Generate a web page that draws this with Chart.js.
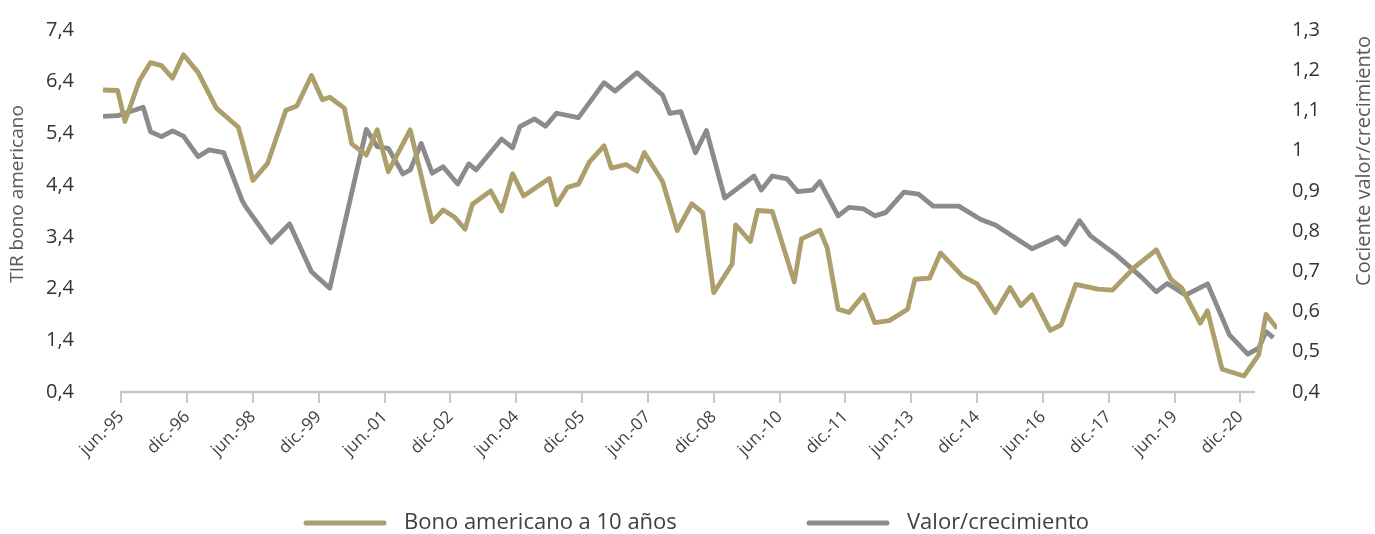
<!DOCTYPE html>
<html>
<head>
<meta charset="utf-8">
<script src="https://cdn.jsdelivr.net/npm/chart.js@4/dist/chart.umd.min.js"></script>
<style>
  html, body { margin: 0; padding: 0; background: #ffffff; }
  #wrap { width: 1375px; height: 534px; position: relative; }
</style>
</head>
<body>
<div id="wrap"><canvas id="c" width="1375" height="534"></canvas></div>
<script>
// ---- DATA (x = months elapsed since Jan-1995) ----
const bondMonths = [0,4,6,10,13,16,19,22,26,31,37,41,45,50,53,57,60,62,66,68,72,75,78,84,90,93,96,99,101,106,109,112,115,122,124,127,130,133,137,139,143,146,148,153,157,161,164,167,172,173,177,179,183,189,191,196,198,201,204,208,211,215,220,222,226,229,235,239,244,248,251,254,259,262,266,272,276,282,288,292,295,300,302,306,312,316,318,321];
const bondYield = [6.24,6.23,5.63,6.43,6.77,6.71,6.47,6.92,6.58,5.89,5.52,4.49,4.82,5.85,5.93,6.52,6.05,6.10,5.89,5.20,4.98,5.47,4.66,5.47,3.69,3.92,3.79,3.55,4.03,4.29,3.90,4.62,4.19,4.53,4.02,4.36,4.42,4.85,5.16,4.73,4.80,4.67,5.03,4.47,3.52,4.04,3.87,2.32,2.87,3.63,3.31,3.91,3.89,2.53,3.36,3.53,3.19,2.00,1.94,2.28,1.74,1.78,2.00,2.58,2.60,3.09,2.64,2.49,1.94,2.42,2.07,2.28,1.59,1.70,2.48,2.39,2.37,2.81,3.15,2.58,2.41,1.73,1.97,0.84,0.71,1.12,1.90,1.63];

const ratioMonths = [0,4,11,13,16,19,22,26,29,33,38,39,46,51,57,62,72,75,78,82,84,87,90,93,97,100,102,109,112,114,118,121,124,130,137,140,146,153,155,158,162,165,170,178,180,183,187,190,194,196,201,204,208,211,214,219,223,227,234,240,244,254,261,263,267,270,277,284,288,291,296,302,308,313,316,318,320];
const ratioValues = [1.085,1.087,1.108,1.047,1.035,1.049,1.036,0.985,1.002,0.995,0.877,0.861,0.772,0.818,0.699,0.658,1.053,1.010,1.006,0.942,0.952,1.018,0.944,0.960,0.917,0.967,0.952,1.029,1.007,1.060,1.079,1.061,1.093,1.082,1.169,1.148,1.194,1.138,1.093,1.097,0.995,1.050,0.882,0.937,0.902,0.937,0.930,0.898,0.902,0.923,0.838,0.859,0.855,0.838,0.846,0.897,0.892,0.862,0.862,0.829,0.815,0.756,0.785,0.767,0.826,0.788,0.741,0.685,0.649,0.670,0.641,0.669,0.542,0.494,0.509,0.550,0.535];

const seriesNames = ['Bono americano a 10 años', 'Valor/crecimiento'];
const xTickLabels = ['jun.-95','dic.-96','jun.-98','dic.-99','jun.-01','dic.-02','jun.-04','dic.-05','jun.-07','dic.-08','jun.-10','dic.-11','jun.-13','dic.-14','jun.-16','dic.-17','jun.-19','dic.-20'];
const xAxisSpan = ['jun.-95', 'abr.-21'];
const xRange = [0, 321];
const leftTicks = [0.4,1.4,2.4,3.4,4.4,5.4,6.4,7.4];
const rightTicks = [0.4,0.5,0.6,0.7,0.8,0.9,1.0,1.1,1.2,1.3];
const leftTitle = 'TIR bono americano';
const rightTitle = 'Cociente valor/crecimiento';

// ---- helpers ----
const MONTHS = {ene:0,feb:1,mar:2,abr:3,may:4,jun:5,jul:6,ago:7,sep:8,oct:9,nov:10,dic:11};
function labelToMonth(lbl) {
  const m = lbl.match(/^([a-z]+)\.-(\d\d)$/);
  const yy = parseInt(m[2], 10);
  const year = yy > 50 ? 1900 + yy : 2000 + yy;
  return (year - 1995) * 12 + MONTHS[m[1]];
}
const xTickValues = xTickLabels.map(labelToMonth);
const fmt = v => String(Math.round(v * 10) / 10).replace('.', ',');

const GOLD = '#ad9f6b';
const GREY = '#8b8b8b';
const AXIS = '#c8c8cb';
const FONT = "'Open Sans', 'DejaVu Sans', sans-serif";

const decor = {
  id: 'decor',
  beforeDatasetsDraw(chart) {
    const ctx = chart.ctx, xs = chart.scales.x;
    const y = chart.chartArea.bottom;
    ctx.save();
    ctx.strokeStyle = AXIS;
    ctx.lineWidth = 2.5;
    ctx.beginPath();
    ctx.moveTo(xs.getPixelForValue(labelToMonth(xAxisSpan[0])) - 1, y);
    ctx.lineTo(xs.getPixelForValue(labelToMonth(xAxisSpan[1])), y);
    ctx.stroke();
    ctx.restore();
  },
  afterDraw(chart) {
    const ctx = chart.ctx;
    ctx.save();
    // axis titles (both read bottom-to-top)
    ctx.fillStyle = '#595959';
    ctx.font = '19px ' + FONT;
    ctx.textAlign = 'center';
    ctx.textBaseline = 'middle';
    ctx.translate(18, 194);
    ctx.rotate(-Math.PI / 2);
    ctx.fillText(leftTitle, 0, 0);
    ctx.setTransform(1, 0, 0, 1, 0, 0);
    ctx.font = '20px ' + FONT;
    ctx.translate(1364, 161);
    ctx.rotate(-Math.PI / 2);
    ctx.fillText(rightTitle, 0, 0);
    ctx.setTransform(1, 0, 0, 1, 0, 0);
    // legend
    const items = chart.data.datasets;
    const starts = [306, 809];
    ctx.font = '22px ' + FONT;
    ctx.textAlign = 'left';
    ctx.textBaseline = 'middle';
    items.forEach((ds, i) => {
      const x0 = starts[i], y0 = 523;
      ctx.strokeStyle = ds.borderColor;
      ctx.lineWidth = 5;
      ctx.lineCap = 'round';
      ctx.beginPath();
      ctx.moveTo(x0, y0);
      ctx.lineTo(x0 + 78, y0);
      ctx.stroke();
      ctx.fillStyle = '#404040';
      ctx.fillText(ds.label, x0 + 98, y0);
    });
    ctx.restore();
  }
};

const toPoints = (xs, ys) => xs.map((m, i) => ({ x: m, y: ys[i] }));
const fitY = w => s => { s.width = w; s.paddingTop = 8; s.paddingBottom = 8; };

new Chart(document.getElementById('c'), {
  type: 'line',
  data: {
    datasets: [
      { label: seriesNames[0], data: toPoints(bondMonths, bondYield), yAxisID: 'y',
        borderColor: GOLD, backgroundColor: GOLD, borderWidth: 4.8, pointRadius: 0,
        tension: 0, borderJoinStyle: 'round' },
      { label: seriesNames[1], data: toPoints(ratioMonths, ratioValues), yAxisID: 'y2',
        borderColor: GREY, backgroundColor: GREY, borderWidth: 4.8, pointRadius: 0,
        tension: 0, borderJoinStyle: 'round' }
    ]
  },
  options: {
    responsive: false,
    animation: false,
    events: [],
    layout: { padding: { top: 30, bottom: 0, left: 0, right: 0 } },
    plugins: { legend: { display: false }, tooltip: { enabled: false }, title: { display: false } },
    scales: {
      x: {
        type: 'linear', min: xRange[0], max: xRange[1], offset: false,
        afterBuildTicks: s => { s.ticks = xTickValues.map(v => ({ value: v })); },
        afterFit: s => { s.height = 142; },
        border: { display: false },
        grid: { drawOnChartArea: false, drawTicks: true, tickLength: 11, color: AXIS, lineWidth: 2 },
        ticks: {
          autoSkip: false, minRotation: 45, maxRotation: 45, padding: 4,
          color: '#404040', font: { family: FONT, size: 17 },
          callback: v => { const i = xTickValues.indexOf(v); return i >= 0 ? xTickLabels[i] : ''; }
        }
      },
      y: {
        position: 'left', min: leftTicks[0], max: leftTicks[leftTicks.length - 1],
        afterBuildTicks: s => { s.ticks = leftTicks.map(v => ({ value: v })); },
        afterFit: fitY(103),
        border: { display: false },
        grid: { display: false, drawTicks: false },
        ticks: { padding: 29, color: '#333333', font: { family: FONT, size: 20 }, callback: v => fmt(v) }
      },
      y2: {
        position: 'right', min: rightTicks[0], max: rightTicks[rightTicks.length - 1],
        afterBuildTicks: s => { s.ticks = rightTicks.map(v => ({ value: v })); },
        afterFit: fitY(98),
        border: { display: false },
        grid: { display: false, drawTicks: false },
        ticks: { padding: 15, color: '#333333', font: { family: FONT, size: 20 }, callback: v => fmt(v) }
      }
    }
  },
  plugins: [decor]
});
</script>
</body>
</html>
